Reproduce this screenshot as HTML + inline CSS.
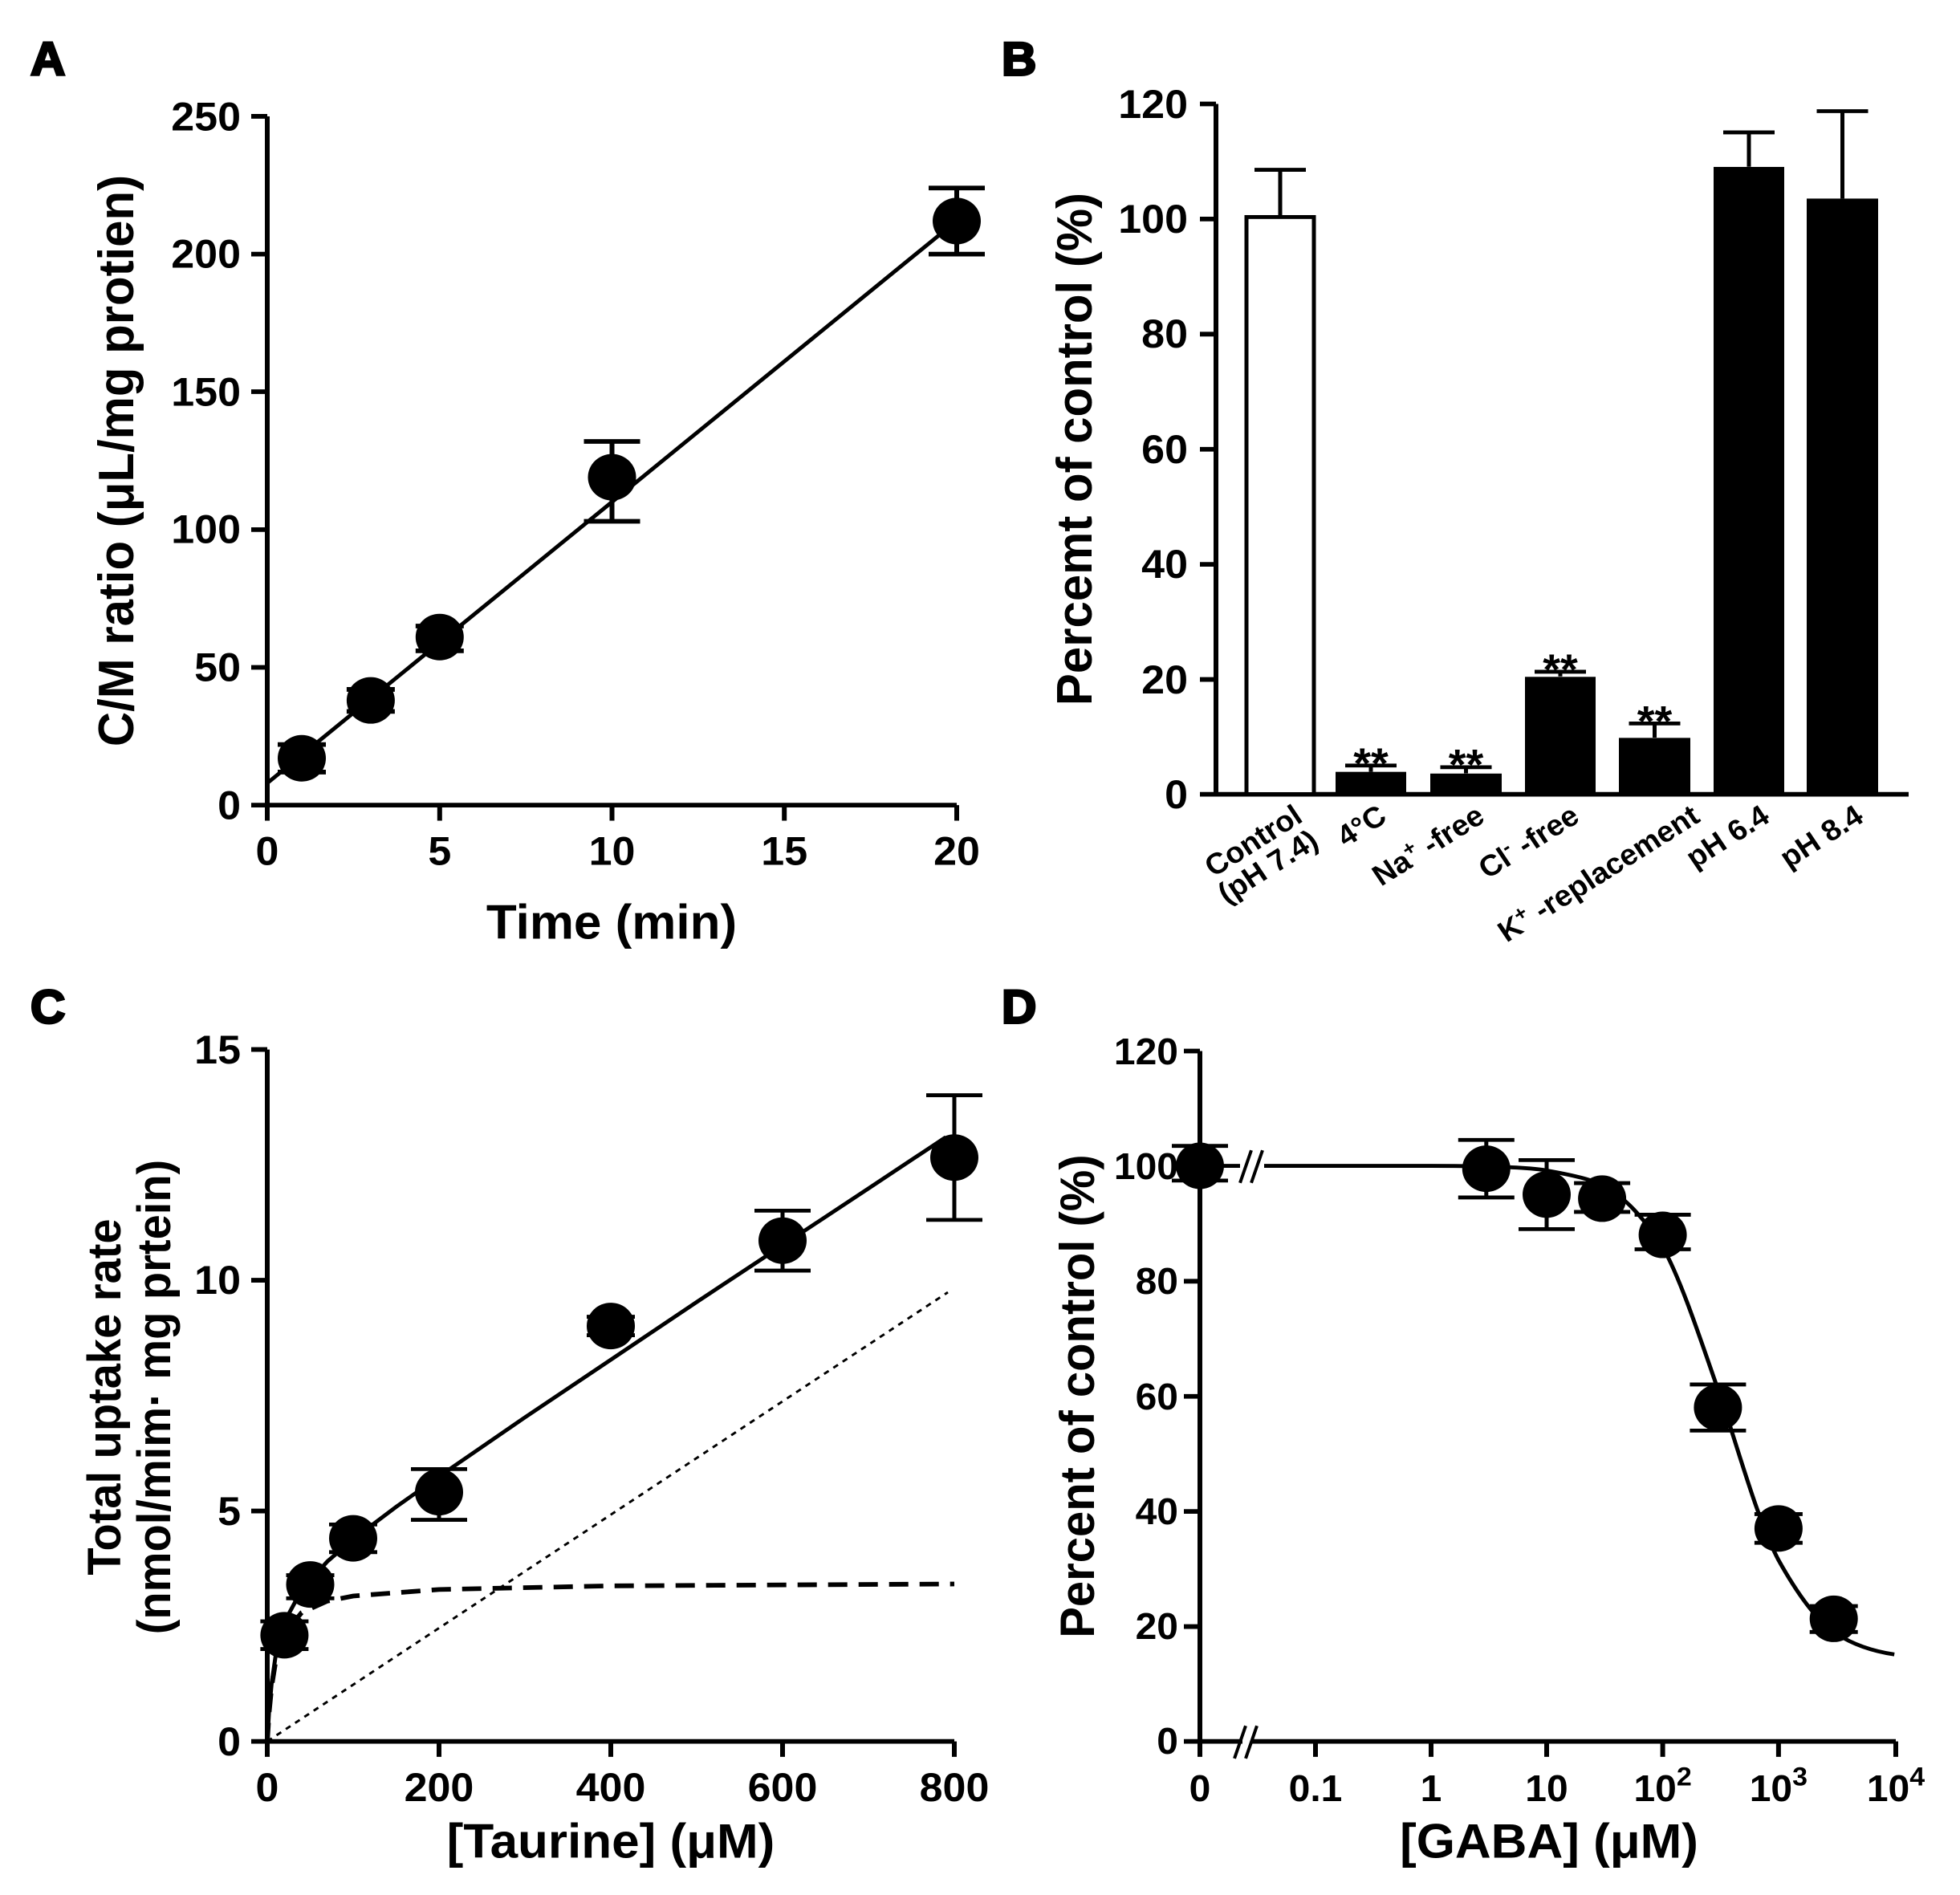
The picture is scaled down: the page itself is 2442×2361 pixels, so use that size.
<!DOCTYPE html>
<html><head><meta charset="utf-8"><style>
html,body{margin:0;padding:0;background:#fff}
svg{display:block}
text{font-family:"Liberation Sans",Arial,sans-serif;font-weight:bold;fill:#000}
</style></head><body>
<svg width="2442" height="2361" viewBox="0 0 2442 2361" xmlns="http://www.w3.org/2000/svg">
<g transform="matrix(1 0 0 0.9664 0 0)">
<g stroke="#000" fill="none" stroke-width="6">
<path d="M333 150 V1038 H1192"/>
<path d="M313 150H333 M313 327.6H333 M313 505H333 M313 682.8H333 M313 860.4H333 M313 1038H333"/>
<path d="M333 1038v20 M547.8 1038v20 M762.5 1038v20 M977.2 1038v20 M1192 1038v20"/>
<path d="M333 1009.6 L1179 295.6" stroke-width="5"/>
<path d="M376 995.4V959.9 M346 995.4h60 M346 959.9h60
M461.9 917.2V888.8 M431.9 917.2h60 M431.9 888.8h60
M547.8 839.1V807.1 M517.8 839.1h60 M517.8 807.1h60
M762.5 672.1V569.1 M727.5 672.1h70 M727.5 569.1h70
M1192 327.6V242.4 M1157 327.6h70 M1157 242.4h70"/>
</g>
<g fill="#000">
<circle cx="376" cy="977.6" r="30"/><circle cx="461.9" cy="903" r="30"/><circle cx="547.8" cy="821.3" r="30"/><circle cx="762.5" cy="615.3" r="30"/><circle cx="1192" cy="285" r="30"/>
</g>
<text x="38" y="97" font-size="60" stroke="#000" stroke-width="3">A</text>
<g font-size="52" text-anchor="end">
<text x="300" y="168">250</text><text x="300" y="345">200</text><text x="300" y="523">150</text><text x="300" y="700">100</text><text x="300" y="878">50</text><text x="300" y="1056">0</text>
</g>
<g font-size="52" text-anchor="middle">
<text x="333" y="1115">0</text><text x="547.8" y="1115">5</text><text x="762.5" y="1115">10</text><text x="977.2" y="1115">15</text><text x="1192" y="1115">20</text>
</g>
<text x="762" y="1210" font-size="62" text-anchor="middle">Time (min)</text>
<text transform="translate(166 594) rotate(-90)" font-size="62" text-anchor="middle">C/M ratio (μL/mg protien)</text>

<text x="1248" y="97" font-size="60" stroke="#000" stroke-width="3">B</text>
<g stroke="#000" stroke-width="6" fill="none">
<path d="M1515 134 V1024 H2378"/>
<path d="M1495 134H1515 M1495 282.4H1515 M1495 430.8H1515 M1495 579.2H1515 M1495 727.6H1515 M1495 876H1515 M1495 1024H1515"/>
</g>
<rect x="1553" y="279.8" width="84" height="744" fill="#fff" stroke="#000" stroke-width="5"/>
<g fill="#000">
<rect x="1664" y="995.1" width="88" height="29"/>
<rect x="1782" y="997.3" width="89" height="27"/>
<rect x="1900" y="872.6" width="88" height="152"/>
<rect x="2017" y="951.3" width="89" height="73"/>
<rect x="2135" y="215.2" width="88" height="809"/>
<rect x="2251" y="256" width="89" height="768"/>
</g>
<g stroke="#000" stroke-width="5" fill="none">
<path d="M1595 279V218.9 M1563 218.9h64"/>
<path d="M1708 995V986.9 M1676 986.9h64"/>
<path d="M1826.5 997V989.1 M1794.5 989.1h64"/>
<path d="M1944 872V866 M1912 866h64"/>
<path d="M2061.5 951V932.7 M2029.5 932.7h64"/>
<path d="M2179 215V170.7 M2147 170.7h64"/>
<path d="M2295.5 256V143.3 M2263.5 143.3h64"/>
</g>
<g font-size="56" text-anchor="middle">
<text x="1708" y="1003">**</text><text x="1826.5" y="1005">**</text><text x="1944" y="882">**</text><text x="2061.5" y="949">**</text>
</g>
<g font-size="52" text-anchor="end">
<text x="1480" y="152">120</text><text x="1480" y="300">100</text><text x="1480" y="448">80</text><text x="1480" y="597">60</text><text x="1480" y="745">40</text><text x="1480" y="894">20</text><text x="1480" y="1042">0</text>
</g>
<text transform="translate(1360 579) rotate(-90)" font-size="62" text-anchor="middle">Percemt of control (%)</text>
<g font-size="38" text-anchor="end">
<text transform="translate(1625 1058) rotate(-33)">Control</text>
<text transform="translate(1645 1090) rotate(-33)">(pH 7.4)</text>
<text transform="translate(1730 1058) rotate(-33)">4°C</text>
<text transform="translate(1852 1058) rotate(-33)">Na<tspan font-size="26" dy="-14">+</tspan><tspan dy="14"> -free</tspan></text>
<text transform="translate(1970 1058) rotate(-33)">Cl<tspan font-size="26" dy="-14">-</tspan><tspan dy="14"> -free</tspan></text>
<text transform="translate(2120 1058) rotate(-33)">K<tspan font-size="26" dy="-14">+</tspan><tspan dy="14"> -replacement</tspan></text>
<text transform="translate(2207 1058) rotate(-33)">pH 6.4</text>
<text transform="translate(2324 1058) rotate(-33)">pH 8.4</text>
</g>
</g>

<g transform="translate(0 1180) scale(1 0.9664) translate(0 -1180)">
<text x="38" y="1278" font-size="60" stroke="#000" stroke-width="3">C</text>
<g stroke="#000" stroke-width="6" fill="none">
<path d="M333 1312 V2204 H1189"/>
<path d="M313 1312H333 M313 1609.5H333 M313 1907H333 M313 2204H333"/>
<path d="M333 2204v20 M547 2204v20 M761 2204v20 M975 2204v20 M1189 2204v20"/>
</g>
<path d="M333 2204 L335.1 2167.1 L338.4 2129.6 L343.7 2091.5 L354.4 2049.9 L375.8 2008.8 L407.9 1972 L440 1943.4 L493.5 1901.7 L547 1862.5 L654 1786.3 L761 1712 L868 1637.6 L975 1564.4 L1082 1491.2 L1178.3 1425.1" stroke="#000" stroke-width="5" fill="none"/>
<path d="M333 2204 L335.1 2168.3 L338.4 2133.2 L343.7 2098.7 L354.4 2064.8 L375.8 2038 L407.9 2023.1 L440 2016.6 L547 2008.2 L761 2003.5 L1189 2001.1" stroke="#000" stroke-width="6" fill="none" stroke-dasharray="24 14"/>
<path d="M333 2204 L1181 1625" stroke="#000" stroke-width="3" fill="none" stroke-dasharray="7 7"/>
<g stroke="#000" stroke-width="5" fill="none">
<path d="M354.4 2085V2049.3 M324.4 2085h60 M324.4 2049.3h60"/>
<path d="M386.5 2019.6V1989.8 M356.5 2019.6h60 M356.5 1989.8h60"/>
<path d="M440 1960V1924.4 M410 1960h60 M410 1924.4h60"/>
<path d="M547 1918.4V1853 M512 1918.4h70 M512 1853h70"/>
<path d="M761 1680.4V1656.6 M731 1680.4h60 M731 1656.6h60"/>
<path d="M975 1597.1V1519.8 M940 1597.1h70 M940 1519.8h70"/>
<path d="M1189 1531.7V1371 M1154 1531.7h70 M1154 1371h70"/>
</g>
<g fill="#000">
<circle cx="354.4" cy="2067.2" r="30"/><circle cx="386.5" cy="2001.7" r="30"/><circle cx="440" cy="1942.2" r="30"/><circle cx="547" cy="1882.7" r="30"/><circle cx="761" cy="1668.5" r="30"/><circle cx="975" cy="1558.4" r="30"/><circle cx="1189" cy="1451.3" r="30"/>
</g>
<g font-size="52" text-anchor="end">
<text x="300" y="1330">15</text><text x="300" y="1627">10</text><text x="300" y="1925">5</text><text x="300" y="2222">0</text>
</g>
<g font-size="52" text-anchor="middle">
<text x="333" y="2281">0</text><text x="547" y="2281">200</text><text x="761" y="2281">400</text><text x="975" y="2281">600</text><text x="1189" y="2281">800</text>
</g>
<text x="761" y="2354" font-size="62" text-anchor="middle">[Taurine] (μM)</text>
<text transform="translate(150 1760) rotate(-90)" font-size="58" text-anchor="middle">Total uptake rate</text>
<text transform="translate(212 1760) rotate(-90)" font-size="58" text-anchor="middle">(nmol/mim· mg prtein)</text>

<text x="1248" y="1278" font-size="60" stroke="#000" stroke-width="3">D</text>
<g stroke="#000" stroke-width="6" fill="none">
<path d="M1495 1314 V2204 H2362"/>
<path d="M1475 1314H1495 M1475 1462.4H1495 M1475 1610.8H1495 M1475 1759.2H1495 M1475 1907.6H1495 M1475 2056H1495 M1475 2204H1495"/>
<path d="M1495 2204v20 M1639 2204v20 M1783 2204v20 M1927 2204v20 M2071.6 2204v20 M2215.9 2204v20 M2362 2204v20"/>
</g>
<g stroke="#fff" stroke-width="10"><path d="M1548 2204h12 M1553 1462h14"/></g>
<g stroke="#000" stroke-width="4"><path d="M1538 2226 L1552 2184 M1552 2226 L1566 2184 M1545 1484 L1559 1442 M1559 1484 L1573 1442"/></g>
<path d="M1495 1462 L1545 1462 M1575 1462 L1783 1462 C1830 1462 1900 1463 1927 1468 C1960 1474 1985 1480 2000 1488.7 C2030 1506 2055 1540 2071.6 1566.6 C2095 1610 2120 1690 2143.8 1760.3 C2165 1825 2190 1920 2215.9 1970.3 C2240 2015 2265 2050 2288 2065.2 C2310 2080 2335 2088 2360.2 2091.9" stroke="#000" stroke-width="5" fill="none"/>
<g stroke="#000" stroke-width="5" fill="none">
<path d="M1495 1481V1436.3 M1460 1481h70 M1460 1436.3h70"/>
<path d="M1851.8 1502.8V1428.6 M1816.8 1502.8h70 M1816.8 1428.6h70"/>
<path d="M1927 1543.6V1454.6 M1892 1543.6h70 M1892 1454.6h70"/>
<path d="M1996.1 1521.4V1484.3 M1961.1 1521.4h70 M1961.1 1484.3h70"/>
<path d="M2071.6 1569.6V1525 M2036.6 1569.6h70 M2036.6 1525h70"/>
<path d="M2140.4 1803.3V1743.9 M2105.4 1803.3h70 M2105.4 1743.9h70"/>
<path d="M2215.9 1948V1911 M2185.9 1948h60 M2185.9 1911h60"/>
<path d="M2284.7 2063V2029.6 M2254.7 2063h60 M2254.7 2029.6h60"/>
</g>
<g fill="#000">
<circle cx="1495" cy="1462" r="30"/><circle cx="1851.8" cy="1465.7" r="30"/><circle cx="1927" cy="1499" r="30"/><circle cx="1996.1" cy="1504.3" r="30"/><circle cx="2071.6" cy="1551" r="30"/><circle cx="2140.4" cy="1773.6" r="30"/><circle cx="2215.9" cy="1929.5" r="30"/><circle cx="2284.7" cy="2046" r="30"/>
</g>
<g font-size="48" text-anchor="end">
<text x="1468" y="1331">120</text><text x="1468" y="1479">100</text><text x="1468" y="1627">80</text><text x="1468" y="1776">60</text><text x="1468" y="1924">40</text><text x="1468" y="2072">20</text><text x="1468" y="2220">0</text>
</g>
<g font-size="48" text-anchor="middle">
<text x="1495" y="2281">0</text><text x="1639" y="2281">0.1</text><text x="1783" y="2281">1</text><text x="1927" y="2281">10</text>
<text x="2071.6" y="2281">10<tspan font-size="34" dy="-20">2</tspan></text>
<text x="2215.9" y="2281">10<tspan font-size="34" dy="-20">3</tspan></text>
<text x="2362" y="2281">10<tspan font-size="34" dy="-20">4</tspan></text>
</g>
<text x="1930" y="2354" font-size="62" text-anchor="middle">[GABA] (μM)</text>
<text transform="translate(1363 1759) rotate(-90)" font-size="60" text-anchor="middle">Percent of control (%)</text>
</g>
</svg>
</body></html>
